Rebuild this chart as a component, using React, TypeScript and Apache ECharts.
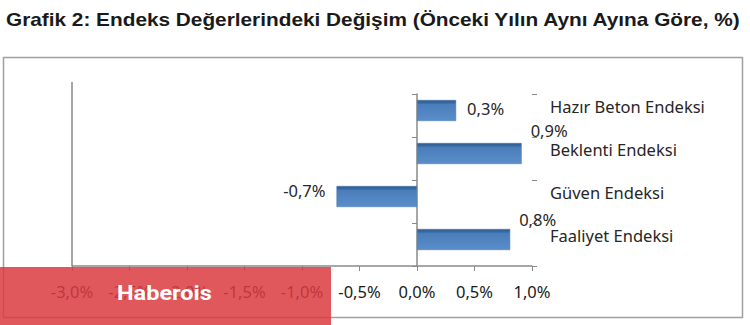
import React, { useEffect, useRef } from "react";
import * as echarts from "echarts";

const categories = ["Hazır Beton Endeksi", "Beklenti Endeksi", "Güven Endeksi", "Faaliyet Endeksi"];
const values = [0.34, 0.91, -0.7, 0.81];
const axisMin = -3;
const axisMax = 1;
const axisStep = 0.5;

// label placement per bar (style, not data)
const labelPlacement = [
  { position: "right", distance: 11, offset: [0, -2] },
  { position: "right", distance: 9, offset: [0, -23] },
  { position: "left", distance: 11, offset: [0, -6] },
  { position: "right", distance: 9, offset: [0, -20] },
];

const fmt = (v: number) => v.toFixed(1).replace(".", ",") + "%";

export default function App() {
  const ref = useRef<HTMLDivElement>(null);
  useEffect(() => {
    document.body.style.margin = "0";
    const chart = echarts.init(ref.current!, null, { renderer: "svg" });
    const barColor = new echarts.graphic.LinearGradient(0, 0, 0, 1, [
      { offset: 0, color: "#2d5b8f" },
      { offset: 0.14, color: "#3a6aa3" },
      { offset: 0.2, color: "#4a7ebb" },
      { offset: 1, color: "#5a8dca" },
    ]);
    const font = "'Noto Sans', sans-serif";
    const fs = 16.5;
    const hiddenCat = {
      type: "category",
      data: categories,
      inverse: true,
      axisLabel: { show: false },
      splitLine: { show: false },
    };
    chart.setOption({
      animation: false,
      grid: { left: 72, right: 218, top: 94, bottom: 59, containLabel: false },
      xAxis: {
        type: "value",
        min: axisMin,
        max: axisMax,
        interval: axisStep,
        axisLine: { show: true, lineStyle: { color: "#8a8a8a", width: 1.5 } },
        axisTick: { show: true, length: 5, lineStyle: { color: "#8a8a8a", width: 1 } },
        splitLine: { show: false },
        axisLabel: { formatter: (v: number) => fmt(v), margin: 17, fontFamily: font, fontSize: fs, color: "#1a1a1a" },
      },
      yAxis: [
        {
          ...hiddenCat,
          position: "left",
          axisLine: { show: true, onZero: true, lineStyle: { color: "#8a8a8a", width: 1.5 } },
          axisTick: { show: true, length: 5, lineStyle: { color: "#8a8a8a", width: 1 } },
        },
        {
          ...hiddenCat,
          position: "right",
          axisLine: { show: false, onZero: true },
          axisTick: { show: true, length: 5, lineStyle: { color: "#8a8a8a", width: 1 } },
        },
        {
          ...hiddenCat,
          position: "right",
          axisLine: { show: false, onZero: false },
          axisTick: { show: false },
          axisLabel: {
            show: true,
            margin: 18,
            fontFamily: font,
            fontSize: fs,
            color: "#262626",
            verticalAlign: "bottom",
            lineHeight: 19,
          },
        },
      ],
      series: [
        {
          type: "bar",
          yAxisIndex: 0,
          barWidth: 21,
          barGap: "0%",
          data: values.map((v, i) => ({
            value: v,
            label: {
              show: true,
              position: labelPlacement[i].position,
              distance: labelPlacement[i].distance,
              offset: labelPlacement[i].offset,
              formatter: () => fmt(v),
              fontFamily: font,
              fontSize: fs,
              lineHeight: 17,
              color: "#262626",
            },
          })),
          itemStyle: { color: barColor, borderColor: "#4777b0", borderWidth: 0.5 },
        },
        {
          type: "bar",
          yAxisIndex: 0,
          barWidth: 10,
          barGap: "0%",
          data: values.map(() => null),
        },
      ],
      graphic: [
        {
          type: "text",
          x: 6,
          y: 20,
          scaleX: 1.156,
          style: {
            text: "Grafik 2: Endeks Değerlerindeki Değişim (Önceki Yılın Aynı Ayına Göre, %)",
            fill: "#1a1a1a",
            fontFamily: "'Liberation Sans', Arial, sans-serif",
            fontWeight: "bold",
            fontSize: 18,
            verticalAlign: "middle",
          },
        },
        {
          type: "rect",
          z: -10,
          shape: { x: 3.5, y: 57.5, width: 739, height: 260 },
          style: { fill: "none", stroke: "#a0a0a0", lineWidth: 1.5 },
        },
        {
          type: "line",
          shape: { x1: 72, y1: 82, x2: 72, y2: 266 },
          style: { stroke: "#a6a6a6", lineWidth: 2 },
        },
        {
          type: "rect",
          z: 100,
          shape: { x: 0, y: 267, width: 331, height: 58 },
          style: { fill: "rgba(219,59,63,0.85)" },
        },
        {
          type: "text",
          z: 101,
          x: 117,
          y: 292,
          scaleX: 1.12,
          style: {
            text: "Haberois",
            fill: "#ffffff",
            fontFamily: "Roboto, sans-serif",
            fontWeight: "bold",
            fontSize: 21,
            verticalAlign: "middle",
          },
        },
      ],
    });
    return () => chart.dispose();
  }, []);
  return <div ref={ref} style={{ width: 750, height: 325 }} />;
}
